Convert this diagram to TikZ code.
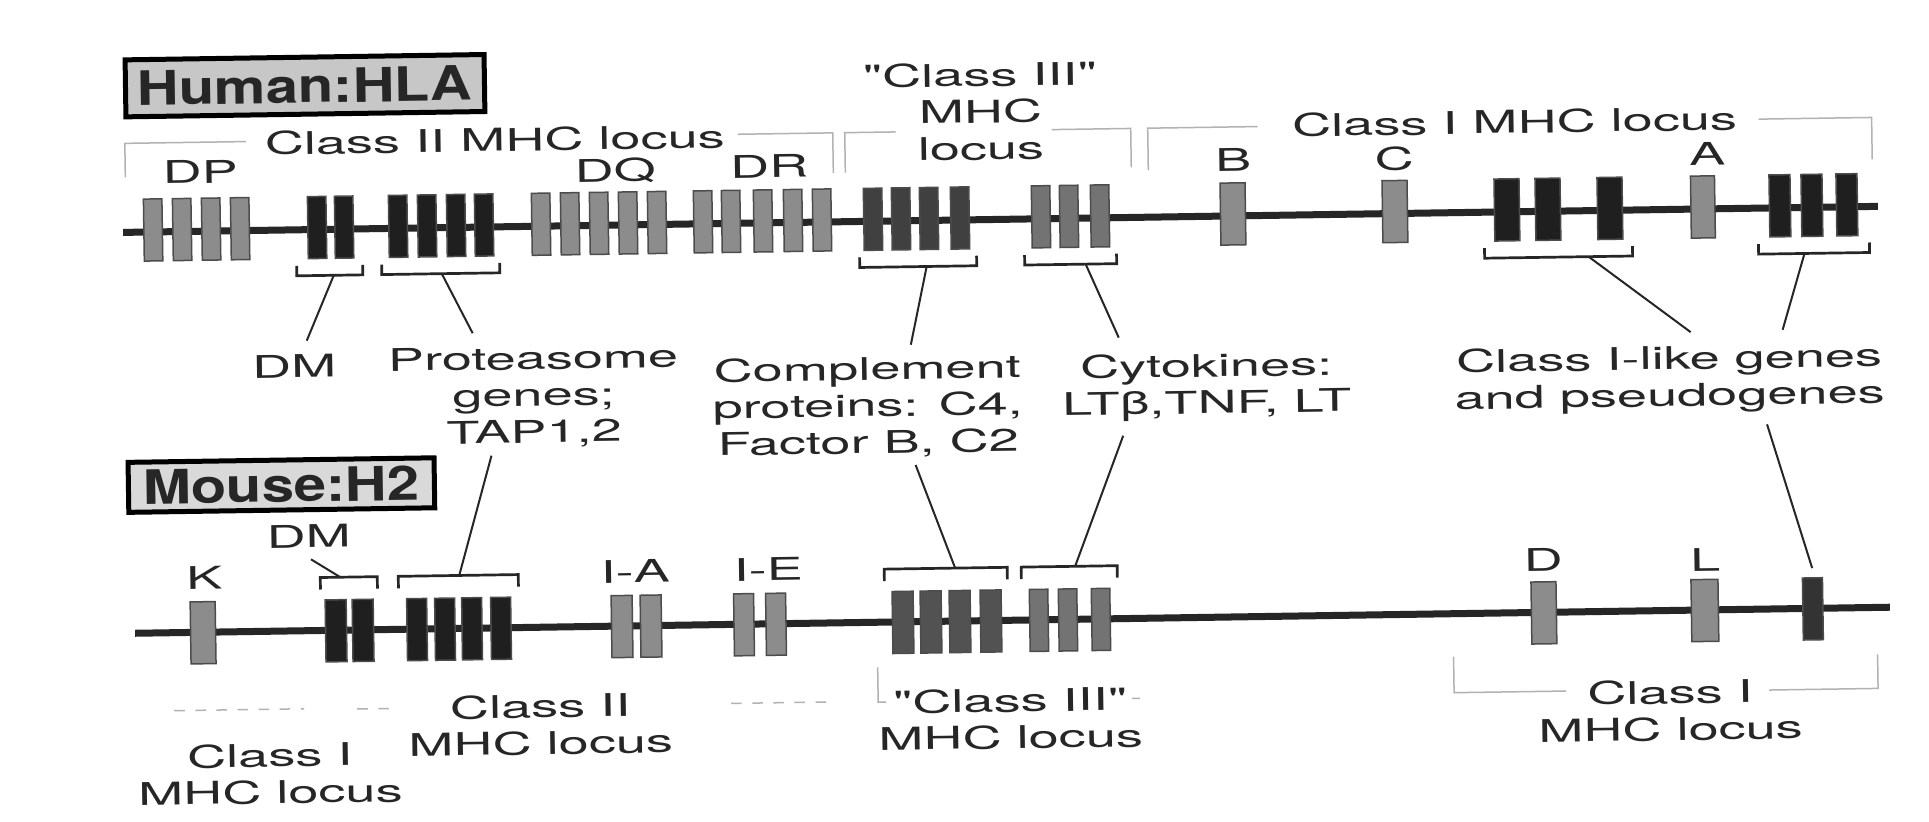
\documentclass[tikz,border=0pt]{standalone}
\usepackage{fontspec}
\newfontfamily\mhcfont{TeX Gyre Heros}[FakeStretch=1.73]
\newfontfamily\boxfont{TeX Gyre Heros}[FakeStretch=1.22]
\tikzset{
  chrom/.style={line width=0.7mm, draw=black!85},
  gene/.style={draw=black!70, line width=0.15mm, inner sep=0,
    minimum width=1.85mm, minimum height=6.2mm},
  ggene/.style={gene, fill=black!45},
  cgene/.style={gene, fill=black!55},
  tgene/.style={gene, fill=black!75},
  dgene/.style={gene, fill=black!88},
  wide/.style={minimum width=2.5mm},
  brk/.style={line width=0.27mm, draw=black!85},
  conn/.style={line width=0.2mm, draw=black!85},
  locus/.style={line width=0.15mm, draw=black!30},
  lbl/.style={font=\mhcfont\fontsize{8.9}{10.45}\selectfont, text=black!85,
    inner sep=0, anchor=north, align=center},
  species/.style={draw=black, line width=0.5mm, fill=black!22, inner sep=0,
    font=\boxfont\bfseries\fontsize{13.5}{14}\selectfont, text=black!85},
}
\begin{document}
\begin{tikzpicture}[x=0.1mm, y=-0.1mm]
\useasboundingbox[fill=white] (0,0) rectangle (1929,822);
\begin{scope}[rotate around={0.85:(960,420)}, transform shape]

  % chromosomes
  \draw[chrom] (126,220) -- (1881,220);
  \draw[chrom] (132,621) -- (1887,621);

  % human genes
  \foreach \x [count=\i] in {156,185,214,243} \node[ggene] (hdp\i) at (\x,218) {};
  \foreach \x [count=\i] in {320,347} \node[dgene] (hdm\i) at (\x,218) {};
  \foreach \x [count=\i] in {401,430,459,487} \node[dgene] (hpr\i) at (\x,218) {};
  \foreach \x [count=\i] in {544,573,602,631,660} \node[ggene] (hdq\i) at (\x,218) {};
  \foreach \x [count=\i] in {706,734,766,796,825} \node[ggene] (hdr\i) at (\x,218) {};
  \foreach \x [count=\i] in {876,904,932,963} \node[tgene] (hc3\i) at (\x,218) {};
  \foreach \x [count=\i] in {1044,1072,1103} \node[cgene] (hcy\i) at (\x,218) {};
  \node[ggene, wide] (hb) at (1236,218) {};
  \node[ggene, wide] (hc) at (1398,218) {};
  \foreach \x [count=\i] in {1510,1551,1613} \node[dgene, wide] (hl\i) at (\x,218) {};
  \node[ggene, minimum width=2.4mm] (ha) at (1706,218) {};
  \foreach \x [count=\i] in {1783,1815,1850} \node[dgene, minimum width=2.1mm] (hp\i) at (\x,218) {};

  % mouse genes
  \node[ggene, wide] (mk) at (200,621.5) {};
  \foreach \x [count=\i] in {333,360} \node[dgene, minimum width=2.1mm] (mdm\i) at (\x,621.5) {};
  \foreach \x [count=\i] in {414,442,469,498} \node[dgene, minimum width=2mm] (mpr\i) at (\x,621.5) {};
  \foreach \x [count=\i] in {619,648} \node[ggene, minimum width=2.1mm] (mia\i) at (\x,621.5) {};
  \foreach \x [count=\i] in {741,773} \node[ggene, minimum width=2mm] (mie\i) at (\x,621.5) {};
  \foreach \x [count=\i] in {900,928,957,988} \node[tgene, fill=black!68, minimum width=2.1mm] (mc3\i) at (\x,621.5) {};
  \foreach \x [count=\i] in {1036,1065,1098} \node[cgene] (mcy\i) at (\x,621.5) {};
  \node[ggene, wide] (md) at (1541,621.5) {};
  \node[ggene, minimum width=2.7mm] (ml) at (1702,621.5) {};
  \node[dgene, fill=black!80, minimum width=2mm] (mcl) at (1810,621.5) {};

  % brackets under the human genes
  \foreach \a/\b/\m/\n in {299/365/336/hdm, 384/502/444/hprot, 862/979/929/hcomp,
      1027/1119/1088/hcyto, 1487/1635/1591/hcl1, 1761/1872/1807/hcl2} {
    \draw[brk] (\a,256) |- (\b,266) -- (\b,256);
    \coordinate (\n) at (\m,266);
  }
  % brackets over the mouse genes
  \foreach \a/\b/\m/\n in {318/375/338/mdm, 396/516/457/mprot,
      882/1005/953/mcomp, 1019/1115/1073/mcyto} {
    \draw[brk] (\a,580) |- (\b,568) -- (\b,580);
    \coordinate (\n) at (\m,568);
  }

  % species boxes
  \node[species, minimum width=35.9mm, minimum height=5.7mm] (hla) at (310,76) {Human:HLA};
  \node[species, fill=black!15, minimum width=30.6mm, minimum height=5mm] (h2) at (280.5,475) {Mouse:H2};

  % human loci
  \node[lbl] (c2h) at (499,120.5) {Class II MHC locus};
  \node[lbl] (c3h) at (985,62.5) {"Class III"\\MHC\\locus};
  \node[lbl] (c1h) at (1519,117.5) {Class I MHC locus};
  \draw[locus] (129,165) |- (250,131);
  \draw[locus] (742,131) -| (837,171);
  \draw[locus] (849,171) |- (900,131);
  \draw[locus] (1056,131) -| (1135,170);
  \draw[locus] (1152,173) |- (1262,131);
  \draw[locus] (1763,131) -| (1876,173);

  \node[lbl] (dp) at (204,148.5) {DP};
  \node[lbl] (dq) at (619,152.5) {DQ};
  \node[lbl] (dr) at (773,151.5) {DR};
  \node[lbl] (b) at (1237,151.5) {B};
  \node[lbl] (c) at (1398,152.5) {C};
  \node[lbl] (a) at (1711,152.5) {A};

  % shared gene families
  \node[lbl] (dmh) at (295,344.5) {DM};
  \node[lbl] (prot) at (534,339.5) {Proteasome\\genes;\\TAP1,2};
  \node[lbl] (comp) at (868,354.5) {Complement\\proteins: C4,\\Factor B, C2};
  \node[lbl] (cyto) at (1207,356.5) {Cytokines:\\LTβ,TNF, LT};
  \node[lbl] (likeg) at (1670,356) {Class I-like genes\\and pseudogenes};

  \draw[conn] (hdm) -- ([xshift=1.3mm, yshift=1.35mm]dmh.north);
  \draw[conn] (hprot) -- ([xshift=-6mm, yshift=1.35mm]prot.north);
  \draw[conn] (hcomp) -- ([xshift=4.4mm, yshift=1.05mm]comp.north);
  \draw[conn] (hcyto) -- ([xshift=-8.7mm, yshift=1.65mm]cyto.north);
  \draw[conn] (hcl1) -- ([xshift=2.2mm, yshift=1.3mm]likeg.north);
  \draw[conn] (hcl2) -- ([xshift=11.4mm, yshift=1.4mm]likeg.north);

  \draw[conn] ([xshift=-4.3mm, yshift=-0.7mm]prot.south) -- (mprot);
  \draw[conn] ([xshift=4.7mm, yshift=-0.7mm]comp.south) -- (mcomp);
  \draw[conn] ([xshift=-8.4mm, yshift=-1.3mm]cyto.south) -- (mcyto);
  \draw[conn] ([xshift=9.7mm, yshift=-1.2mm]likeg.south) -- ([yshift=0.9mm]mcl.north);

  % mouse labels
  \node[lbl] (k) at (202,554.5) {K};
  \node[lbl] (dmm) at (307,514.5) {DM};
  \node[lbl] (ia) at (633,554.5) {I-A};
  \node[lbl] (ie) at (766,554.5) {I-E};
  \node[lbl] (d) at (1541,556.5) {D};
  \node[lbl] (l) at (1703,558.5) {L};
  \draw[conn] ([xshift=0.2mm, yshift=-1.1mm]dmm.south) -- (mdm);

  % mouse loci
  \node[lbl] (c1m) at (265,732.5) {Class I\\MHC locus};
  \node[lbl] (c2m) at (536,687.5) {Class II\\MHC locus};
  \node[lbl] (c3m) at (1006,688.5) {"Class III"\\MHC locus};
  \node[lbl] (c1mr) at (1666,690) {Class I\\MHC locus};
  \draw[locus, dashed] (170,699) -- (300,699);
  \draw[locus, dashed] (353,700) -- (392,700);
  \draw[locus, dashed] (727,700) -- (828,700);
  \draw[locus] (874,666) |- (882,701);
  \draw[locus] (1128,701) -- (1136,701);
  \draw[locus] (1450,664) |- (1562,700);
  \draw[locus] (1765,702) -| (1874,668);
\end{scope}
\end{tikzpicture}
\end{document}
